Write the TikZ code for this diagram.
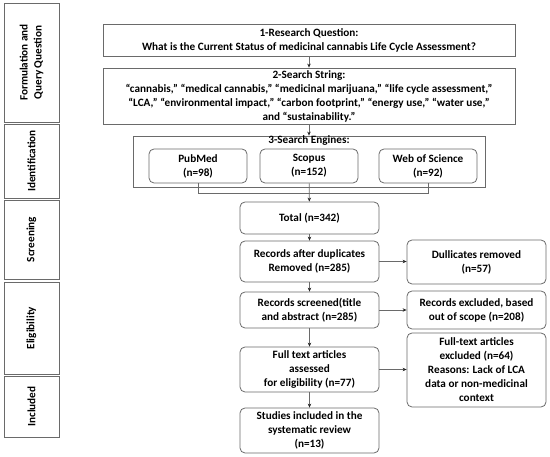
\documentclass[tikz,border=0pt]{standalone}
\usepackage{fontspec}
\setmainfont{Carlito}
\usetikzlibrary{arrows.meta}
\definecolor{ln}{HTML}{6A6A6A}
\begin{document}
\begin{tikzpicture}[x=1pt,y=-1pt,
  base/.style={draw=ln,line width=0.8pt,font=\bfseries\fontsize{11.2}{14}\selectfont,align=center,inner sep=1pt,text=black},
  sq/.style={base},
  rb/.style={base,rounded corners=5pt},
  side/.style={base,rotate=90},
  arr/.style={draw=ln,line width=0.7pt,-{Stealth[length=4pt,width=3.5pt,color=black!85]}},
  ln/.style={draw=ln,line width=0.7pt}]
\useasboundingbox (0,0) rectangle (550,457);
% side labels
\node[side,minimum width=119pt,minimum height=55pt] (s1) at (31.5,62.5) {Formulation and\\Query Question};
\node[side,minimum width=74pt,minimum height=55pt] (s2) at (31.5,161) {Identification};
\node[side,minimum width=79pt,minimum height=55pt] (s3) at (31.5,239.5) {Screening};
\node[side,minimum width=92pt,minimum height=55pt] (s4) at (31.5,328) {Eligibility};
\node[side,minimum width=61pt,minimum height=55pt] (s5) at (31.5,406.5) {Included};
% top boxes
\node[sq,minimum width=412pt,minimum height=32pt] (q1) at (309,40) {1-Research Question:\\What is the Current Status of medicinal cannabis Life Cycle Assessment?};
\node[sq,minimum width=412pt,minimum height=56pt] (q2) at (309,96) {2-Search String:\\``cannabis,'' ``medical cannabis,'' ``medicinal marijuana,'' ``life cycle assessment,''\\``LCA,'' ``environmental impact,'' ``carbon footprint,'' ``energy use,'' ``water use,''\\and ``sustainability.''};
\node[sq,minimum width=352pt,minimum height=51pt] (se) at (309,161.5) {};
\node[base,draw=none,anchor=north] (seh) at (309,134.5) {3-Search Engines:};
\node[rb,minimum width=98pt,minimum height=34pt] (pub) at (198,166) {PubMed\\(n=98)};
\node[rb,minimum width=98pt,minimum height=34pt] (sco) at (309,166) {Scopus\\(n=152)};
\node[rb,minimum width=98pt,minimum height=34pt] (wos) at (428,166) {Web of Science\\(n=92)};
\coordinate (j1) at (198,193);
\coordinate (j2) at (428,193);
% main column
\node[rb,minimum width=139pt,minimum height=32pt] (tot) at (309.5,218) {Total (n=342)};
\node[rb,minimum width=139pt,minimum height=41pt] (dup) at (309.5,261.5) {Records after duplicates\\Removed (n=285)};
\node[rb,minimum width=139pt,minimum height=36pt] (scr) at (309.5,310) {Records screened(title\\and abstract (n=285)};
\node[rb,minimum width=139pt,minimum height=45pt] (ft) at (309.5,369.5) {Full text articles\\assessed\\for eligibility (n=77)};
\node[rb,minimum width=139pt,minimum height=45pt] (inc) at (309.5,430.5) {Studies included in the\\systematic review\\(n=13)};
% right column
\node[rb,minimum width=139pt,minimum height=44pt] (dr) at (476.5,262) {Dullicates removed\\(n=57)};
\node[rb,minimum width=139pt,minimum height=38pt] (ex) at (476.5,310) {Records excluded, based\\out of scope (n=208)};
\node[rb,minimum width=139pt,minimum height=74pt] (fte) at (476.5,370) {Full-text articles\\excluded (n=64)\\Reasons: Lack of LCA\\data or non-medicinal\\context};
% connectors
\draw[arr] (q1) -- (q2);
\draw[arr] (q2) -- (se);
\draw[ln] (pub.south) -- (j1) -- (j2) -- (wos.south);
\draw[arr] (sco) -- (tot);
\draw[arr] (tot) -- (dup);
\draw[arr] (dup) -- (scr);
\draw[arr] (scr) -- (ft);
\draw[arr] (ft) -- (inc);
\draw[arr] (dup.east) -- (dup.east -| dr.west);
\draw[arr] (scr.east) -- (scr.east -| ex.west);
\draw[arr] (ft.east) -- (ft.east -| fte.west);
\end{tikzpicture}
\end{document}
